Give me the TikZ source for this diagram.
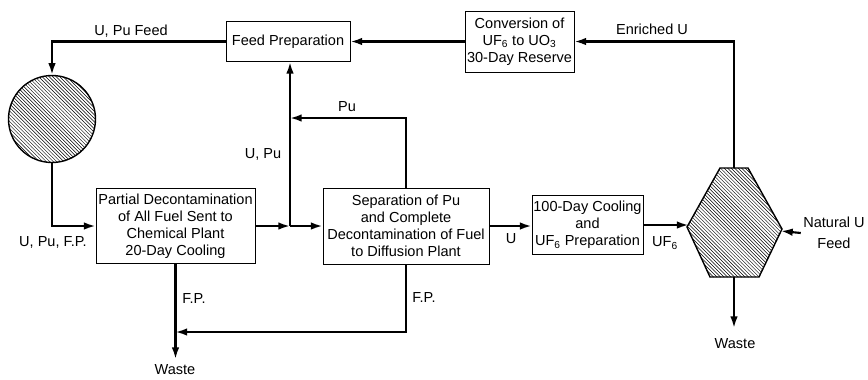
\documentclass[tikz,border=0pt]{standalone}
\usepackage{fontspec}
\setmainfont{Liberation Sans}
\usetikzlibrary{arrows.meta,patterns}

\begin{document}
\begin{tikzpicture}[x=0.03cm, y=-0.03cm,
    box/.style={draw, line width=0.8pt, inner sep=1pt, align=center, font=\fontsize{12.4}{14.5}\selectfont},
    flow/.style={line width=1.8pt, -{Latex[length=10pt,width=6.5pt]}},
    lbl/.style={font=\fontsize{12.4}{14.5}\selectfont, inner sep=0pt, align=center}]
    \useasboundingbox (0,0) rectangle (868,379);

    % Process units - top row
    \node[box, minimum width=3.72cm, minimum height=1.2cm] (feed) at (288,41.5) {Feed Preparation};
    \node[box, minimum width=3.27cm, minimum height=1.83cm] (conv) at (519.5,41.5) {Conversion of\\UF\textsubscript{6} to UO\textsubscript{3}\\30-Day Reserve};

    % Reactor
    \node[draw, circle, line width=1.2pt, minimum size=2.61cm, pattern=north west lines] (reactor) at (52,119) {};

    % Process units - middle row
    \node[box, minimum width=4.77cm, minimum height=2.25cm] (partial) at (175.5,226) {Partial Decontamination\\of All Fuel Sent to\\Chemical Plant\\20-Day Cooling};
    \node[box, minimum width=4.98cm, minimum height=2.28cm] (sep) at (406,226) {Separation of Pu\\and Complete\\Decontamination of Fuel\\to Diffusion Plant};
    \node[box, minimum width=3.33cm, minimum height=1.77cm] (cool) at (587.5,225) {100-Day Cooling\\and\\UF\textsubscript{6} Preparation};

    % Diffusion plant
    \draw[line width=1.2pt, pattern=north west lines] (720,168) -- (748,168) -- (782,229) -- (759,277) -- (710,277) -- (687,227) -- cycle;
    \coordinate (hexN) at (734,168);
    \coordinate (hexS) at (734,277);
    \coordinate (hexW) at (688.5,225);
    \coordinate (hexE) at (781,231);

    % Junctions and free ends
    \coordinate (jn) at (290,226);
    \coordinate (pu) at (290,118);
    \coordinate (fpj) at (175.5,332);
    \coordinate (wasteA) at (175.5,359);
    \coordinate (wasteB) at (734,328);

    % Connections
    \draw[flow] (feed.west) -| (reactor.north);
    \draw[flow] (reactor.south) |- (partial.west);
    \draw[flow] (partial.east) -- (jn);
    \draw[flow] (jn) -- (sep.west);
    \draw[flow] (jn) -- (jn |- feed.south);
    \draw[flow] (sep.north) |- (pu);
    \draw[flow] (sep.east) -- (sep.east -| cool.west);
    \draw[flow] (cool.east |- hexW) -- (hexW);
    \draw[flow] (hexN) |- (conv.east);
    \draw[flow] (conv.west) -- (feed.east);
    \draw[flow] (hexS) -- (wasteB);
    \draw[flow] (partial.south) -- (wasteA);
    \draw[flow] (sep.south) |- (fpj);

    % Labels
    \node[lbl] (lfeed) at (131,31) {U, Pu Feed};
    \node[lbl] (lenr) at (652,29) {Enriched U};
    \node[lbl] (lupu) at (263,154) {U, Pu};
    \node[lbl] (lpu) at (347,107) {Pu};
    \node[lbl] (lfuel) at (53,242) {U, Pu, F.P.};
    \node[lbl] (lfpa) at (194,298) {F.P.};
    \node[lbl] (lfpb) at (424,297) {F.P.};
    \node[lbl] (lu) at (511,239) {U};
    \node[lbl] (luf) at (665,243) {UF\textsubscript{6}};
    \node[lbl] (lwasteA) at (175,370) {Waste};
    \node[lbl] (lwasteB) at (735,344) {Waste};
    \node[lbl, inner sep=2pt] (natural) at (834,233) {Natural U\\[3pt]Feed};
    \draw[flow] (natural.west) -- (hexE);
\end{tikzpicture}
\end{document}
